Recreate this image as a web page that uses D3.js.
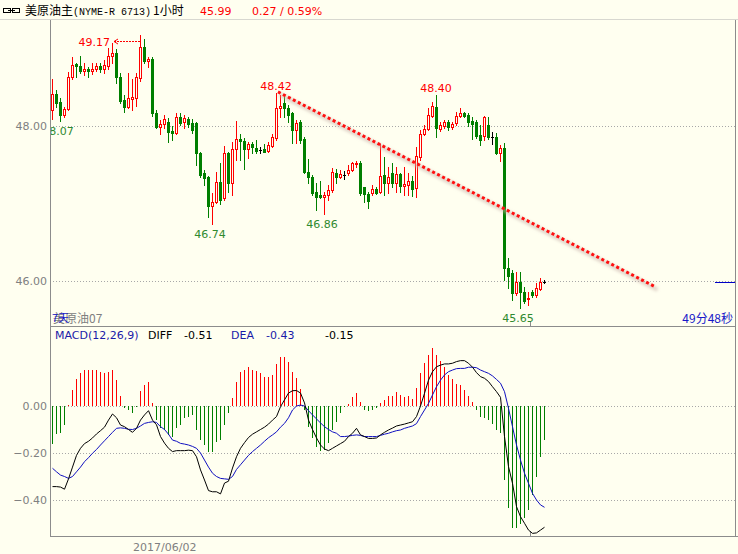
<!DOCTYPE html>
<html><head><meta charset="utf-8">
<script src="https://cdn.jsdelivr.net/npm/d3@7"></script>
<style>
html,body{margin:0;padding:0;background:#fffff0;}
svg{display:block;}
</style></head><body>
<svg id="c" width="738" height="554"></svg>
<script>
// ---------- DATA ----------
const opens = [
48.21,48.41,48.31,48.14,48.22,48.63,48.80,48.77,48.71,48.74,
48.71,48.74,48.77,48.74,48.77,48.90,48.94,48.63,48.34,48.25,
48.35,48.36,48.62,49.02,48.84,48.86,48.17,47.99,48.03,48.05,
47.94,47.91,48.12,48.05,48.09,48.04,48.04,47.65,47.39,47.34,
46.97,47.02,47.28,47.07,47.65,47.26,47.70,47.83,47.81,47.70,
47.77,47.72,47.69,47.70,47.68,47.74,47.85,48.23,48.30,48.23,
48.17,47.95,48.05,47.83,47.41,47.34,47.15,47.11,47.08,47.11,
47.17,47.40,47.34,47.37,47.39,47.43,47.51,47.52,47.21,47.12,
47.14,47.19,47.15,47.37,47.26,47.39,47.26,47.38,47.23,47.24,
47.29,47.20,47.60,47.90,47.96,48.13,48.25,47.96,48.00,48.05,
47.99,48.04,48.13,48.17,48.14,48.06,48.05,47.88,47.87,48.01,
47.86,47.86,47.65,47.72,46.17,46.10,45.85,45.99,45.86,45.77,
45.86,45.82,45.90,45.99];
const highs = [
48.61,48.46,48.36,48.25,48.70,48.89,48.81,48.90,48.81,48.76,
48.81,48.81,48.81,48.85,49.01,49.07,48.99,48.68,48.40,48.68,
48.61,48.68,49.17,49.12,48.89,48.89,48.21,48.08,48.14,48.10,
48.00,48.17,48.17,48.14,48.12,48.09,48.05,47.66,47.43,47.35,
47.14,47.41,47.52,47.74,47.66,47.79,48.06,47.90,47.85,47.79,
47.79,47.82,47.73,47.77,47.79,47.90,48.42,48.40,48.37,48.27,
48.18,48.08,48.08,47.86,47.57,47.37,47.26,47.29,47.15,47.24,
47.46,47.45,47.43,47.42,47.50,47.53,47.55,47.55,47.21,47.15,
47.24,47.21,47.77,47.60,47.47,47.52,47.47,47.39,47.47,47.39,
47.35,47.73,47.95,48.01,48.23,48.31,48.40,48.05,48.08,48.08,
48.05,48.18,48.23,48.18,48.17,48.12,48.08,48.01,48.13,48.12,
47.92,47.91,47.75,47.78,46.30,46.14,46.12,46.12,45.92,45.86,
45.88,45.97,46.04,46.01];
const lows = [
48.09,48.25,48.07,48.12,48.21,48.61,48.63,48.68,48.66,48.63,
48.67,48.71,48.70,48.68,48.74,48.81,48.55,48.30,48.18,48.23,
48.21,48.26,48.58,48.81,48.76,48.13,47.97,47.90,47.97,47.79,
47.82,47.90,48.01,47.97,47.99,47.91,47.50,47.34,47.24,46.83,
46.74,47.01,46.99,47.05,47.15,47.11,47.56,47.56,47.45,47.59,
47.65,47.65,47.65,47.66,47.66,47.73,47.82,48.12,48.12,48.05,
47.78,47.78,47.78,47.39,47.26,47.11,46.92,47.07,46.86,47.05,
47.15,47.26,47.33,47.32,47.37,47.42,47.47,47.11,47.02,46.94,
47.11,47.12,47.14,47.11,47.14,47.21,47.15,47.15,47.11,47.11,
47.10,47.08,47.56,47.88,47.95,48.12,47.86,47.94,47.97,47.95,
47.96,48.01,48.12,48.12,48.00,47.83,47.85,47.75,47.82,47.83,
47.77,47.64,47.55,46.01,45.91,45.75,45.82,45.65,45.72,45.69,
45.79,45.79,45.88,45.98];
const closes = [
48.41,48.30,48.14,48.22,48.63,48.79,48.77,48.71,48.74,48.71,
48.74,48.77,48.74,48.79,48.90,48.94,48.63,48.32,48.25,48.36,
48.37,48.63,49.02,48.84,48.86,48.17,47.99,48.03,48.09,47.92,
47.91,48.12,48.04,48.10,48.03,47.95,47.65,47.37,47.33,46.97,
47.02,47.28,47.05,47.65,47.26,47.70,47.83,47.81,47.70,47.77,
47.73,47.68,47.69,47.66,47.75,47.86,48.23,48.26,48.23,48.14,
47.95,48.04,47.82,47.41,47.34,47.14,47.08,47.08,47.11,47.17,
47.41,47.34,47.38,47.37,47.43,47.52,47.52,47.14,47.12,47.03,
47.19,47.14,47.35,47.26,47.34,47.26,47.38,47.23,47.25,47.29,
47.19,47.61,47.90,47.96,48.14,48.26,47.97,48.01,48.05,47.99,
48.03,48.13,48.17,48.13,48.05,48.03,47.87,47.82,48.12,47.86,
47.86,47.65,47.72,46.17,46.06,45.85,45.99,45.86,45.74,45.78,
45.82,45.91,45.99,45.99];

const macdHist = [
-0.16,-0.12,-0.115,-0.08,0.005,0.07,0.115,0.142,0.153,0.153,
0.153,0.153,0.146,0.142,0.146,0.153,0.111,0.043,-0.009,-0.017,
-0.03,-0.004,0.065,0.089,0.104,0.014,-0.06,-0.094,-0.10,-0.125,
-0.13,-0.095,-0.08,-0.05,-0.045,-0.04,-0.10,-0.145,-0.165,-0.195,
-0.195,-0.155,-0.145,-0.08,-0.03,0.033,0.103,0.146,0.155,0.165,
0.155,0.15,0.142,0.125,0.122,0.13,0.18,0.207,0.207,0.189,
0.146,0.119,0.072,-0.017,-0.09,-0.136,-0.173,-0.19,-0.187,-0.158,
-0.10,-0.067,-0.03,-0.005,0.01,0.04,0.055,0.018,-0.017,-0.02,
-0.017,-0.01,0.014,0.026,0.043,0.043,0.061,0.047,0.037,0.043,
0.031,0.075,0.139,0.182,0.217,0.245,0.217,0.193,0.167,0.132,
0.113,0.094,0.089,0.068,0.043,0.018,-0.017,-0.048,-0.052,-0.06,
-0.077,-0.102,-0.116,-0.315,-0.435,-0.52,-0.52,-0.50,-0.478,-0.443,
-0.379,-0.30,-0.218,-0.145];
const diffLine = [
-0.343,-0.343,-0.345,-0.354,-0.31,-0.26,-0.21,-0.18,-0.16,-0.15,
-0.136,-0.119,-0.105,-0.09,-0.06,-0.034,-0.05,-0.081,-0.088,-0.10,
-0.112,-0.095,-0.06,-0.038,-0.02,-0.06,-0.08,-0.13,-0.158,-0.18,
-0.194,-0.19,-0.19,-0.19,-0.188,-0.19,-0.216,-0.272,-0.315,-0.36,
-0.365,-0.365,-0.374,-0.328,-0.32,-0.264,-0.216,-0.18,-0.156,-0.134,
-0.12,-0.11,-0.10,-0.09,-0.077,-0.06,-0.045,-0.003,0.026,0.055,
0.065,0.066,0.055,0.013,-0.06,-0.10,-0.136,-0.166,-0.183,-0.19,
-0.18,-0.17,-0.16,-0.15,-0.13,-0.116,-0.095,-0.123,-0.13,-0.138,
-0.138,-0.136,-0.123,-0.112,-0.102,-0.094,-0.085,-0.081,-0.077,-0.072,
-0.067,-0.045,0.0,0.054,0.11,0.146,0.167,0.174,0.179,0.179,
0.182,0.189,0.193,0.193,0.182,0.165,0.142,0.125,0.118,0.104,
0.082,0.061,0.037,-0.13,-0.258,-0.329,-0.428,-0.471,-0.499,-0.528,
-0.542,-0.54,-0.528,-0.516];
const deaLine = [
-0.265,-0.28,-0.294,-0.30,-0.308,-0.30,-0.28,-0.26,-0.237,-0.22,
-0.201,-0.185,-0.166,-0.148,-0.13,-0.112,-0.095,-0.093,-0.095,-0.099,
-0.10,-0.095,-0.085,-0.074,-0.07,-0.067,-0.07,-0.088,-0.10,-0.12,
-0.145,-0.15,-0.159,-0.162,-0.166,-0.172,-0.18,-0.20,-0.23,-0.26,
-0.286,-0.30,-0.308,-0.31,-0.312,-0.30,-0.27,-0.25,-0.23,-0.21,
-0.194,-0.18,-0.166,-0.15,-0.135,-0.123,-0.11,-0.09,-0.074,-0.05,
-0.017,0.0,0.004,0.0,-0.02,-0.038,-0.055,-0.072,-0.088,-0.10,
-0.11,-0.116,-0.13,-0.13,-0.128,-0.125,-0.123,-0.125,-0.13,-0.13,
-0.13,-0.13,-0.125,-0.12,-0.116,-0.11,-0.105,-0.102,-0.095,-0.09,
-0.085,-0.075,-0.045,-0.017,0.011,0.047,0.082,0.11,0.132,0.146,
0.153,0.159,0.16,0.16,0.165,0.165,0.163,0.153,0.146,0.139,
0.128,0.113,0.097,0.061,-0.01,-0.088,-0.166,-0.23,-0.286,-0.329,
-0.372,-0.40,-0.421,-0.431];

const priceTicks = [48.00, 46.00];
const macdTicks = [0.00, -0.20, -0.40];
const dayBreaks = [119.5];
const highMarks = [{i:56, label:"48.42"}, {i:96, label:"48.40"}];
const lowMarks = [{i:2, label:"48.07"}, {i:40, label:"46.74"}, {i:68, label:"46.86"}, {i:117, label:"45.65"}];
const peakMark = {i:22, label:"49.17"};
const trendLine = [{i:56.5, p:48.44}, {i:151, p:45.92}];
const lastPrice = 45.99;
const header = {name:"美原油主", code:"(NYME-R 6713)", period:"1小时", price:"45.99", change:"0.27 / 0.59%"};
const macdHeader = {title:"MACD(12,26,9)", diff:"-0.51", dea:"-0.43", macd:"-0.15"};
const dateLabel = "2017/06/02";

// ---------- DRAW ----------
const W = 738, H = 554;
const BG = "#fffff0", RED = "#ff0000", GREEN = "#007f00", GRAY = "#808080", AXIS = "#8c8c8c", BLUE = "#1010c0";
const FONT = "'DejaVu Sans', sans-serif";
const CJK = "'Noto Sans CJK SC', sans-serif";

const svg = d3.select("#c");
svg.append("rect").attr("width", W).attr("height", H).attr("fill", BG);

const n = closes.length;
const x = d3.scaleLinear().domain([0, n - 1]).range([52, 544]);
const y = d3.scaleLinear().domain([46, 48]).range([281, 126]);
const ym = d3.scaleLinear().domain([-0.4, 0]).range([500, 406]);
const L = 50, R = 735, TOP = 20, SEP = 326, BOT = 536;

const defs = svg.append("defs");
defs.append("clipPath").attr("id", "cp").append("rect").attr("x", L + 1).attr("y", TOP).attr("width", R - L - 1).attr("height", SEP - TOP);
defs.append("clipPath").attr("id", "cm").append("rect").attr("x", L + 1).attr("y", SEP + 1).attr("width", R - L - 1).attr("height", BOT - SEP - 1);
const blur = defs.append("filter").attr("id", "sh").attr("x", "-10%").attr("y", "-10%").attr("width", "120%").attr("height", "120%");
blur.append("feGaussianBlur").attr("stdDeviation", 1.6);

// grid lines
const gp = svg.append("g");
gp.selectAll("line.pg").data(priceTicks).join("line")
  .attr("x1", L).attr("x2", R).attr("y1", d => Math.round(y(d)) + 0.5).attr("y2", d => Math.round(y(d)) + 0.5)
  .attr("stroke", "#a8a8a8").attr("stroke-dasharray", "1,2");
gp.selectAll("line.mg").data(macdTicks).join("line")
  .attr("x1", L).attr("x2", R).attr("y1", d => Math.round(ym(d)) + 0.5).attr("y2", d => Math.round(ym(d)) + 0.5)
  .attr("stroke", "#a8a8a8").attr("stroke-dasharray", "1,2");

// axes labels via d3 axis
const fmt = d3.format(".2f");
function styleAxis(g) {
  g.select(".domain").remove();
  g.selectAll("line").remove();
  g.selectAll("text").attr("fill", GRAY).attr("font-family", FONT).attr("font-size", 11);
}
svg.append("g").attr("transform", `translate(${L - 3},0)`)
  .call(d3.axisLeft(y).tickValues(priceTicks).tickFormat(fmt).tickSize(0).tickPadding(0)).call(styleAxis);
svg.append("g").attr("transform", `translate(${L - 3},0)`)
  .call(d3.axisLeft(ym).tickValues(macdTicks).tickFormat(fmt).tickSize(0).tickPadding(0)).call(styleAxis);

// frame lines
const fr = svg.append("g").attr("stroke", AXIS).attr("stroke-width", 1).attr("shape-rendering", "crispEdges");
fr.append("line").attr("x1", 0).attr("x2", W).attr("y1", TOP - 0.5).attr("y2", TOP - 0.5).attr("stroke", "#d8d8d0");
fr.append("line").attr("x1", L + 0.5).attr("x2", L + 0.5).attr("y1", TOP).attr("y2", BOT);
fr.append("line").attr("x1", L).attr("x2", R).attr("y1", SEP + 0.5).attr("y2", SEP + 0.5);
fr.append("line").attr("x1", L).attr("x2", W).attr("y1", BOT + 0.5).attr("y2", BOT + 0.5);
fr.append("line").attr("x1", R + 0.5).attr("x2", R + 0.5).attr("y1", TOP).attr("y2", BOT);
// day-break ticks
fr.selectAll("line.dbp").data(dayBreaks).join("line")
  .attr("x1", d => Math.round(x(d)) + 0.5).attr("x2", d => Math.round(x(d)) + 0.5)
  .attr("y1", SEP - 5).attr("y2", SEP);
fr.selectAll("line.dbm").data(dayBreaks).join("line").attr("class", "dbm")
  .attr("x1", d => Math.round(x(d)) + 0.5).attr("x2", d => Math.round(x(d)) + 0.5)
  .attr("y1", BOT - 5).attr("y2", BOT);

// ---------- candles ----------
const gc = svg.append("g").attr("clip-path", "url(#cp)").attr("shape-rendering", "crispEdges");
const idx = d3.range(n);
function col(i) { return closes[i] > opens[i] ? RED : closes[i] < opens[i] ? GREEN : "#000"; }
gc.selectAll("line.w").data(idx).join("line")
  .attr("x1", i => x(i) + 0.5).attr("x2", i => x(i) + 0.5)
  .attr("y1", i => Math.round(y(highs[i]))).attr("y2", i => Math.round(y(lows[i])) + 1)
  .attr("stroke", col);
gc.selectAll("rect.b").data(idx).join("rect")
  .each(function (i) {
    const o = opens[i], c = closes[i];
    const t = Math.round(y(Math.max(o, c))), b = Math.round(y(Math.min(o, c)));
    const s = d3.select(this);
    if (c > o) {
      s.attr("x", x(i) - 0.5).attr("y", t + 0.5).attr("width", 2).attr("height", Math.max(1, b - t))
        .attr("fill", BG).attr("stroke", RED).attr("stroke-width", 1);
    } else if (c < o) {
      s.attr("x", x(i) - 1).attr("y", t).attr("width", 3).attr("height", Math.max(1, b - t + 1)).attr("fill", GREEN);
    } else {
      s.attr("x", x(i) - 1).attr("y", t).attr("width", 3).attr("height", 1).attr("fill", "#000");
    }
  });

// high / low labels
const gl = svg.append("g").attr("clip-path", "url(#cp)").attr("font-family", FONT).attr("font-size", 11);
gl.selectAll("text.h").data(highMarks).join("text")
  .attr("x", d => x(d.i)).attr("y", d => y(highs[d.i]) - 3).attr("text-anchor", "middle")
  .attr("fill", RED).text(d => d.label);
gl.selectAll("text.l").data(lowMarks).join("text")
  .attr("x", d => x(d.i) - 2).attr("y", d => y(lows[d.i]) + 14).attr("text-anchor", "middle")
  .attr("fill", "#2f8a2f").text(d => d.label);
// peak with arrow
{
  const px = x(peakMark.i), py = y(highs[peakMark.i]);
  gl.append("text").attr("x", px - 30).attr("y", py + 11).attr("text-anchor", "end").attr("fill", RED).text(peakMark.label);
  const ay = Math.round(py + 6) + 0.5;
  gl.append("line").attr("x1", px - 26).attr("x2", px).attr("y1", ay).attr("y2", ay)
    .attr("stroke", RED).attr("stroke-dasharray", "2,1");
  gl.append("path").attr("d", `M${px - 22},${ay - 2.5}L${px - 26},${ay}L${px - 22},${ay + 2.5}`)
    .attr("fill", "none").attr("stroke", RED);
}

// trend line (dotted with soft shadow)
{
  const tl = d3.line().x(d => x(d.i)).y(d => y(d.p));
  const gt = svg.append("g").attr("clip-path", "url(#cp)");
  gt.append("path").attr("d", tl(trendLine)).attr("transform", "translate(1.5,2.5)")
    .attr("stroke", "#c8b0a8").attr("stroke-opacity", 0.55).attr("stroke-width", 4).attr("fill", "none")
    .attr("filter", "url(#sh)");
  gt.append("path").attr("d", tl(trendLine)).attr("stroke", "#ff1010").attr("stroke-width", 3)
    .attr("stroke-dasharray", "3,2.6").attr("fill", "none");
}

// last price marker
svg.append("line").attr("x1", 715).attr("x2", R).attr("y1", Math.round(y(lastPrice)) + 0.5).attr("y2", Math.round(y(lastPrice)) + 0.5)
  .attr("stroke", "#0000c8");

// ---------- MACD ----------
const gm = svg.append("g").attr("clip-path", "url(#cm)");
gm.append("g").attr("shape-rendering", "crispEdges").selectAll("line").data(idx).join("line")
  .attr("x1", i => x(i) + 0.5).attr("x2", i => x(i) + 0.5)
  .attr("y1", Math.round(ym(0))).attr("y2", i => Math.round(ym(macdHist[i])))
  .attr("stroke", i => macdHist[i] >= 0 ? RED : GREEN);
const ml = d3.line().x(i => x(i) + 0.5);
gm.append("path").attr("d", ml.y(i => ym(deaLine[i]))(idx)).attr("fill", "none").attr("stroke", BLUE).attr("stroke-width", 1);
gm.append("path").attr("d", ml.y(i => ym(diffLine[i]))(idx)).attr("fill", "none").attr("stroke", "#000").attr("stroke-width", 1);

// ---------- texts ----------
const tg = svg.append("g").attr("font-family", FONT).attr("font-size", 11);
// header link icon
const ic = svg.append("g").attr("stroke", "#000").attr("fill", "none").attr("shape-rendering", "crispEdges");
ic.append("rect").attr("x", 3.5).attr("y", 8.5).attr("width", 7).attr("height", 4);
ic.append("rect").attr("x", 12.5).attr("y", 8.5).attr("width", 7).attr("height", 4);
ic.append("line").attr("x1", 8).attr("x2", 15).attr("y1", 10.5).attr("y2", 10.5);

svg.append("text").attr("x", 25).attr("y", 15).attr("font-family", CJK).attr("font-size", 12).attr("fill", "#000").text(header.name);
svg.append("text").attr("x", 73).attr("y", 15).attr("font-family", "'Liberation Mono', monospace").attr("font-size", 10).attr("fill", "#000").text(header.code);
svg.append("text").attr("x", 153).attr("y", 15).attr("font-family", CJK).attr("font-size", 12).attr("fill", "#000").text(header.period);
tg.append("text").attr("x", 200).attr("y", 15).attr("fill", RED).text(header.price);
tg.append("text").attr("x", 252).attr("y", 15).attr("fill", RED).text(header.change);

// panel labels (the reference draws these two on top of each other)
svg.append("text").attr("x", 53).attr("y", 323).attr("font-family", CJK).attr("font-size", 12).attr("fill", GRAY).text("美原油07");
svg.append("text").attr("x", 52).attr("y", 322).attr("font-family", CJK).attr("font-size", 11).attr("fill", "#1818c8").text("7天");
svg.append("text").attr("x", 733).attr("y", 323).attr("text-anchor", "end").attr("font-family", CJK).attr("font-size", 12).attr("fill", "#1818c8").text("49分48秒");

// MACD header
tg.append("text").attr("x", 55).attr("y", 339).attr("fill", "#1a1aa8").text(macdHeader.title);
tg.append("text").attr("x", 148).attr("y", 339).attr("fill", "#000").text("DIFF");
tg.append("text").attr("x", 184).attr("y", 339).attr("fill", "#000").text(macdHeader.diff);
tg.append("text").attr("x", 231).attr("y", 339).attr("fill", "#1a1aa8").text("DEA");
tg.append("text").attr("x", 266).attr("y", 339).attr("fill", "#1a1aa8").text(macdHeader.dea);
tg.append("text").attr("x", 325).attr("y", 339).attr("fill", "#000").text(macdHeader.macd);

// date label
tg.append("text").attr("x", 133).attr("y", 551).attr("fill", GRAY).text(dateLabel);
</script>
</body></html>
